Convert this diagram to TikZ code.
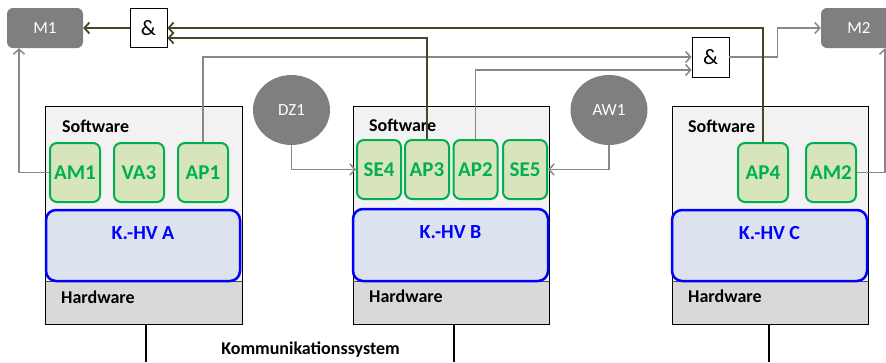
\documentclass[tikz,border=0pt]{standalone}
\usepackage{fontspec}
\setmainfont{Carlito}
\usetikzlibrary{arrows.meta,calc,shapes.geometric}
\definecolor{boxgray}{HTML}{7F7F7F}
\definecolor{linegray}{HTML}{888888}
\definecolor{olivedark}{HTML}{4A4429}
\definecolor{swfill}{HTML}{F2F2F2}
\definecolor{hwfill}{HTML}{D9D9D9}
\definecolor{appgreen}{HTML}{00B050}
\definecolor{appfill}{HTML}{D8E4BC}
\definecolor{hvfill}{HTML}{DCE3EF}
\definecolor{hvblue}{HTML}{0000FF}
\tikzset{
  mbox/.style={draw=none, fill=boxgray, rounded corners=6pt, minimum width=76pt, minimum height=40pt,
    text=white, font=\fontsize{17}{17}\selectfont},
  andbox/.style={draw=black, line width=0.8pt, fill=white, minimum width=37pt, minimum height=39pt,
    font=\fontsize{22}{22}\selectfont, inner sep=0pt},
  source/.style={ellipse, fill=boxgray, minimum width=77pt, minimum height=70pt, inner sep=0pt,
    text=white, font=\fontsize{17}{17}\selectfont},
  app/.style={draw=appgreen, line width=2pt, fill=appfill, rounded corners=7pt, minimum width=50pt,
    minimum height=59pt, inner sep=0pt, text=appgreen, font=\fontsize{21}{21}\selectfont\bfseries},
  appnarrow/.style={app, minimum width=44pt},
  hvbox/.style={draw=hvblue, line width=2.5pt, fill=hvfill, rounded corners=10pt, inner sep=0pt},
  hvtext/.style={text=hvblue, font=\fontsize{20}{20}\selectfont\bfseries},
  layertext/.style={anchor=west, text=black, font=\fontsize{18}{18}\selectfont\bfseries, inner sep=0pt},
  grayconn/.style={draw=linegray, line width=1.5pt, -{Straight Barb[length=5pt,width=11pt,line width=1.5pt]}},
  darkconn/.style={draw=olivedark, line width=1.8pt, -{Straight Barb[length=5pt,width=11pt,line width=1.8pt]}},
  bus/.style={draw=black, line width=2.6pt},
}
\begin{document}
\begin{tikzpicture}[x=1pt,y=-1pt]
\useasboundingbox (0,0) rectangle (886,362);
\begin{scope}
\clip (0,0) rectangle (886,362);

% control units: software layer, hardware layer, outline
\foreach \xl/\xr/\nm in {45/242/A, 353/549/B, 672/868/C}{
  \fill[swfill] (\xl,106) rectangle (\xr,281);
  \fill[hwfill] (\xl,281) rectangle (\xr,324);
  \draw[black, line width=0.9pt] (\xl,106) rectangle (\xr,324);
  \draw[black!70, line width=0.6pt] (\xl,281) -- (\xr,281);
}
\node[layertext] (swA) at (62,126) {Software};
\node[layertext] (swB) at (369,125) {Software};
\node[layertext] (swC) at (688,126) {Software};
\node[layertext] (hwA) at (61,297) {Hardware};
\node[layertext] (hwB) at (369,296) {Hardware};
\node[layertext] (hwC) at (688,296) {Hardware};

% hypervisors
\node[hvbox, minimum width=194pt, minimum height=71pt] (hvA) at (143,245.5) {};
\node[hvbox, minimum width=195pt, minimum height=72pt] (hvB) at (450.5,245) {};
\node[hvbox, minimum width=195pt, minimum height=71pt] (hvC) at (769.5,245.5) {};
\node[hvtext] (hvAt) at (143,233) {K.-HV A};
\node[hvtext] (hvBt) at (450.5,232) {K.-HV B};
\node[hvtext] (hvCt) at (769.5,233) {K.-HV C};

% applications
\node[app] (am1) at (75,172.5) {AM1};
\node[app] (va3) at (139,172.5) {VA3};
\node[app] (ap1) at (203,172.5) {AP1};
\node[appnarrow] (se4) at (379,169.5) {SE4};
\node[appnarrow] (ap3) at (427,169.5) {AP3};
\node[appnarrow] (ap2) at (475.5,169.5) {AP2};
\node[appnarrow] (se5) at (525,169.5) {SE5};
\node[app] (ap4) at (763,172.5) {AP4};
\node[app] (am2) at (831,172.5) {AM2};

% outputs, sources, and-gates
\node[mbox] (m1) at (45,28) {M1};
\node[mbox] (m2) at (859,28) {M2};
\node[source] (dz1) at (291.5,110) {DZ1};
\node[source] (aw1) at (609,110) {AW1};
\node[andbox] (and1) at (148.5,28) {\&};
\node[andbox, minimum height=40pt] (and2) at (710.5,57) {\&};

% communication system
\coordinate (busA) at (146,362);
\coordinate (busB) at (454,362);
\coordinate (busC) at (769,362);
\draw[bus] (busA) -- (busA |- 0,324);
\draw[bus] (busB) -- (busB |- 0,324);
\draw[bus] (busC) -- (busC |- 0,324);
\node[font=\fontsize{18}{18}\selectfont\bfseries] (kom) at (310.5,350) {Kommunikationssystem};

% gray signal paths
\draw[grayconn] (am1.west) -| ([xshift=-26pt]m1.south);
\draw[grayconn] (am2.east) -| ([xshift=26pt]m2.south);
\draw[grayconn] (dz1.south) |- (se4.west);
\draw[grayconn] (aw1.south) |- (se5.east);
\draw[grayconn] (ap1.north) |- (and2.west);
\draw[grayconn] (ap2.north) |- ([yshift=-13pt]and2.west);
\draw[grayconn] (and2.east) -- ++(48,0) |- (m2.west);

% dark signal paths
\draw[darkconn] (ap4.north) |- (and1.east);
\draw[darkconn] (ap3.north) |- ([yshift=-10pt]and1.east);
\draw[darkconn] (and1.west) -- (m1.east);
\end{scope}
\end{tikzpicture}
\end{document}
